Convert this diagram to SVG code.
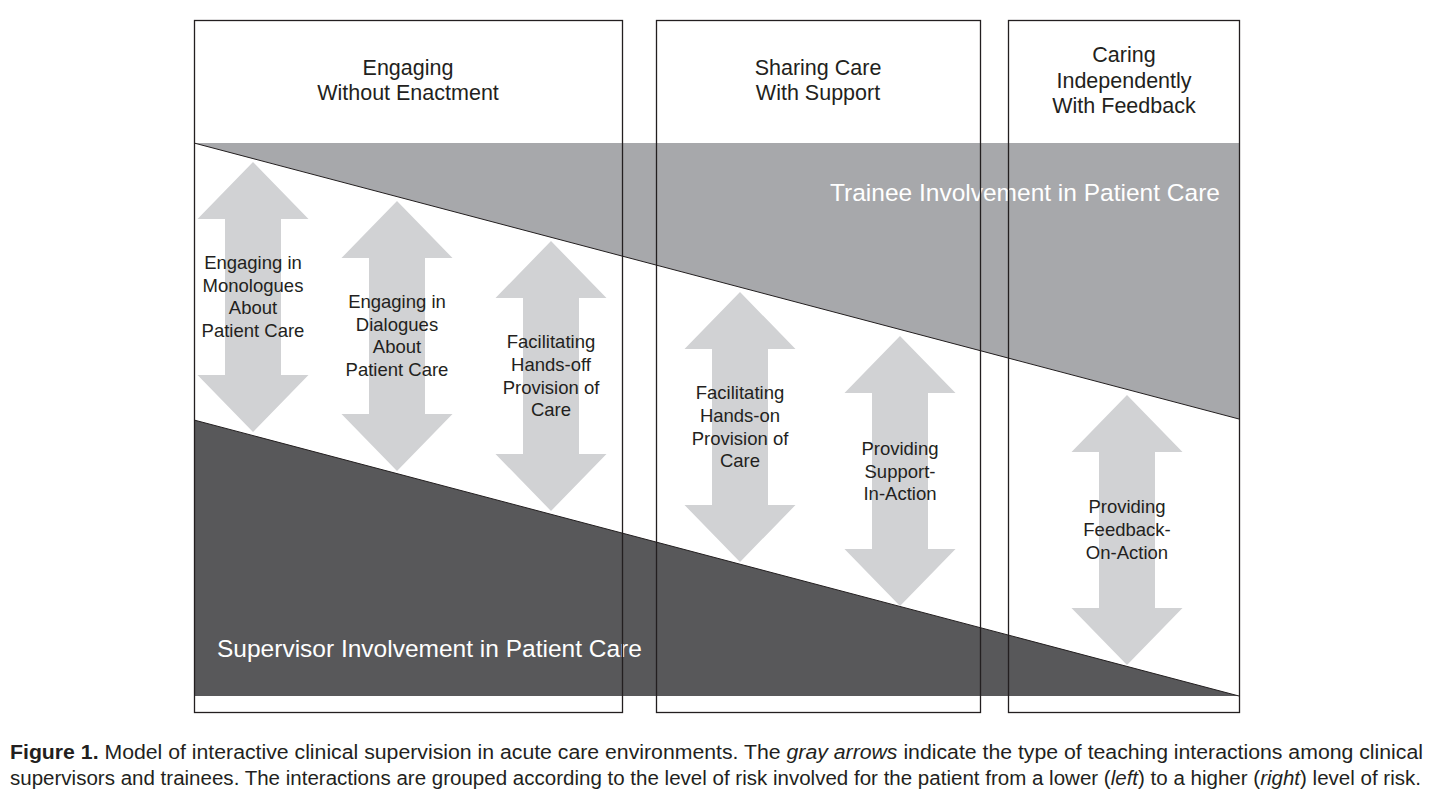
<svg xmlns="http://www.w3.org/2000/svg" xmlns:xlink="http://www.w3.org/1999/xlink" width="1434" height="800" viewBox="0 0 1434 800">
<style>
text{font-family:"Liberation Sans",Arial,Helvetica,sans-serif;fill:#231f20}
.lbl{font-size:18.5px;text-anchor:middle}
.ttl{font-size:21.5px;text-anchor:middle}
.band{font-size:24.5px;fill:#ffffff}
.cap{font-size:19.5px}
.frame{fill:none;stroke:#231f20;stroke-width:1.3}
.arrow{fill:#d1d2d4}
</style>
<defs>
<path id="arr" class="arrow" d="M0,0 L55.5,57 L28,57 L28,213 L55.5,213 L0,270 L-55.5,213 L-28,213 L-28,57 L-55.5,57 Z"/>
</defs>
<rect width="1434" height="800" fill="#ffffff"/>
<g id="bands">
<polygon points="194,143 1239,143 1239,419" fill="#a7a8ab"/>
<line x1="194" y1="143" x2="1239" y2="419" stroke="#231f20" stroke-width="1"/>
<polygon points="194,420 1239,696 194,696" fill="#58585a"/>
<line x1="194" y1="420" x2="1239" y2="696" stroke="#231f20" stroke-width="1"/>
<text class="band" x="830" y="201">Trainee Involvement in Patient Care</text>
<text class="band" x="217" y="657">Supervisor Involvement in Patient Care</text>
</g>
<g id="connectors">
<use xlink:href="#arr" href="#arr" x="253" y="162"/>
<use xlink:href="#arr" href="#arr" x="397" y="201"/>
<use xlink:href="#arr" href="#arr" x="551" y="241"/>
<use xlink:href="#arr" href="#arr" x="740" y="292"/>
<use xlink:href="#arr" href="#arr" x="900" y="336"/>
<use xlink:href="#arr" href="#arr" x="1127" y="395"/>
</g>
<g id="node-monologues">
<text class="lbl" x="253" y="269">Engaging in</text>
<text class="lbl" x="253" y="292">Monologues</text>
<text class="lbl" x="253" y="314">About</text>
<text class="lbl" x="253" y="337">Patient Care</text>
</g>
<g id="node-dialogues">
<text class="lbl" x="397" y="308">Engaging in</text>
<text class="lbl" x="397" y="331">Dialogues</text>
<text class="lbl" x="397" y="353">About</text>
<text class="lbl" x="397" y="376">Patient Care</text>
</g>
<g id="node-handsoff">
<text class="lbl" x="551" y="348">Facilitating</text>
<text class="lbl" x="551" y="371">Hands-off</text>
<text class="lbl" x="551" y="394">Provision of</text>
<text class="lbl" x="551" y="416">Care</text>
</g>
<g id="node-handson">
<text class="lbl" x="740" y="399">Facilitating</text>
<text class="lbl" x="740" y="422">Hands-on</text>
<text class="lbl" x="740" y="445">Provision of</text>
<text class="lbl" x="740" y="467">Care</text>
</g>
<g id="node-support">
<text class="lbl" x="900" y="455">Providing</text>
<text class="lbl" x="900" y="478">Support-</text>
<text class="lbl" x="900" y="500">In-Action</text>
</g>
<g id="node-feedback">
<text class="lbl" x="1127" y="513">Providing</text>
<text class="lbl" x="1127" y="536">Feedback-</text>
<text class="lbl" x="1127" y="559">On-Action</text>
</g>
<g id="column-engaging">
<rect class="frame" x="194.5" y="20.5" width="428" height="692"/>
<text class="ttl" x="408" y="75">Engaging</text>
<text class="ttl" x="408" y="100">Without Enactment</text>
</g>
<g id="column-sharing">
<rect class="frame" x="656.5" y="20.5" width="324" height="692"/>
<text class="ttl" x="818" y="75">Sharing Care</text>
<text class="ttl" x="818" y="100">With Support</text>
</g>
<g id="column-caring">
<rect class="frame" x="1008.5" y="20.5" width="231" height="692"/>
<text class="ttl" x="1124" y="62">Caring</text>
<text class="ttl" x="1124" y="88">Independently</text>
<text class="ttl" x="1124" y="113">With Feedback</text>
</g>
<g id="caption">
<text class="cap" x="10" y="759" textLength="1413" lengthAdjust="spacingAndGlyphs"><tspan font-weight="bold">Figure 1.</tspan>  Model of interactive clinical supervision in acute care environments. The <tspan font-style="italic">gray arrows</tspan> indicate the type of teaching interactions among clinical</text>
<text class="cap" x="10" y="785" textLength="1411" lengthAdjust="spacingAndGlyphs">supervisors and trainees. The interactions are grouped according to the level of risk involved for the patient from a lower (<tspan font-style="italic">left</tspan>) to a higher (<tspan font-style="italic">right</tspan>) level of risk.</text>
</g>
</svg>
